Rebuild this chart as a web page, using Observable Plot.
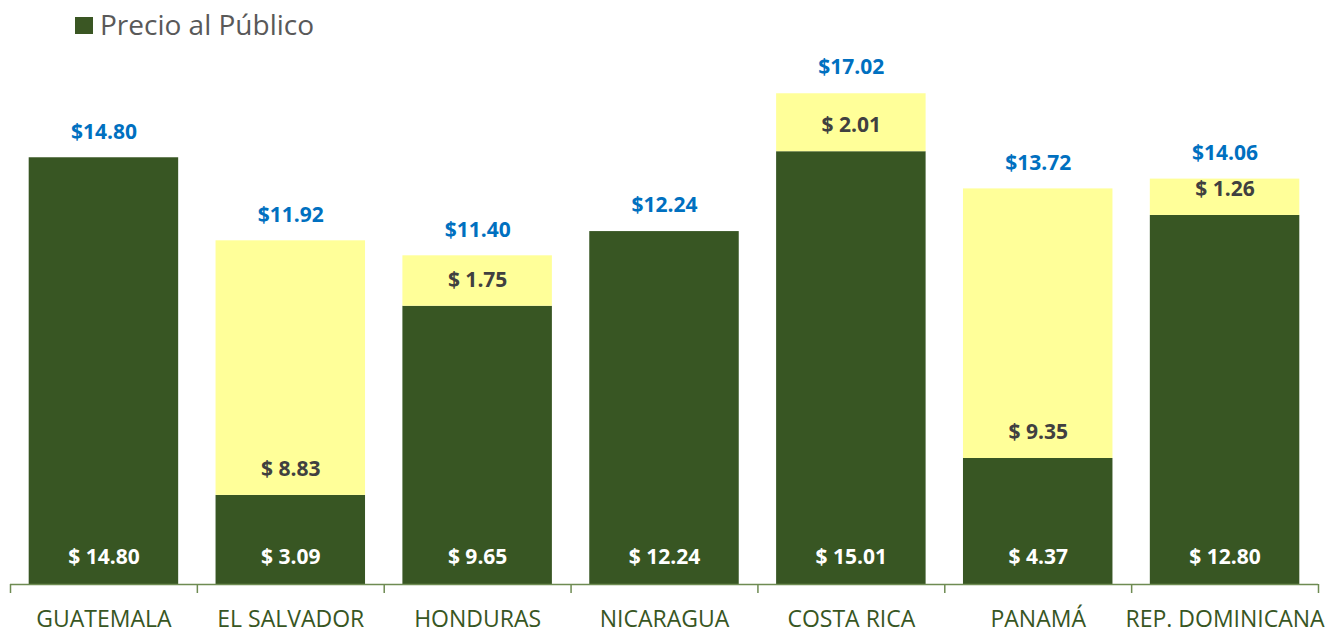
<!DOCTYPE html>
<html><head><meta charset="utf-8">
<script src="https://cdn.jsdelivr.net/npm/d3@7"></script>
<script src="https://cdn.jsdelivr.net/npm/@observablehq/plot@0.6"></script>
<style>
body{margin:0;background:#fff;font-family:'Open Sans',sans-serif;overflow:hidden;}
#legend{height:50px;position:relative;width:1342px;}
#legend .sw{position:absolute;left:75px;top:17px;width:18px;height:17px;background:#3A5623;}
#legend .lt{position:absolute;left:100px;top:10px;font-size:28px;line-height:28px;color:#595959;white-space:nowrap;}
</style></head><body>
<div id="legend"><span class="sw"></span><span class="lt">Precio al Público</span></div>
<div id="chart"></div>
<script>
const countries = ["GUATEMALA","EL SALVADOR","HONDURAS","NICARAGUA","COSTA RICA","PANAMÁ","REP. DOMINICANA"];
const precioPublico = [14.80, 3.09, 9.65, 12.24, 15.01, 4.37, 12.80];
const adicional = [0, 8.83, 1.75, 0, 2.01, 9.35, 1.26];
const totales = [14.80, 11.92, 11.40, 12.24, 17.02, 13.72, 14.06];

const GREEN = "#385623", YELLOW = "#FFFF99", BLUE = "#0070C0", DARK = "#404040", AXIS = "#6E8B52";
const W = 1342, H = 581, mT = 15, mB = 47, mL = 10, mR = 24;
const yMax = 18;
const step = (W - mL - mR) / countries.length;
const pxPerUnit = (H - mT - mB) / yMax;

const rows = countries.map((c, i) => ({country: c, green: precioPublico[i], extra: adicional[i], total: totales[i]}));
const extraRows = rows.filter(d => d.extra > 0);
const fmt = v => "$ " + v.toFixed(2);

const chart = Plot.plot({
  width: W, height: H,
  marginTop: mT, marginBottom: mB, marginLeft: mL, marginRight: mR,
  style: {fontFamily: "'Open Sans', sans-serif", background: "#fff", overflow: "visible"},
  x: {domain: countries, paddingInner: 0.2, paddingOuter: 0.1, round: false, axis: null},
  y: {domain: [0, yMax], axis: null},
  marks: [
    Plot.barY(rows, {x: "country", y1: 0, y2: "green", fill: GREEN}),
    Plot.barY(extraRows, {x: "country", y1: "green", y2: "total", fill: YELLOW}),
    Plot.ruleY([0], {stroke: AXIS, strokeWidth: 1.5}),
    Plot.ruleX(countries, {x: d => d, y1: 0, y2: -9 / pxPerUnit, dx: -step / 2, stroke: AXIS, strokeWidth: 1.5}),
    Plot.ruleX(countries.slice(-1), {x: d => d, y1: 0, y2: -9 / pxPerUnit, dx: step / 2, stroke: AXIS, strokeWidth: 1.5}),
    Plot.text(rows, {x: "country", y: 0, text: d => fmt(d.green), dy: -27, fill: "white", fontWeight: "bold", fontSize: 21}),
    Plot.text(extraRows, {x: "country", y: "green", text: d => fmt(d.extra), dy: -26, fill: DARK, fontWeight: "bold", fontSize: 21}),
    Plot.text(rows, {x: "country", y: "total", text: d => "$" + d.total.toFixed(2), dy: -26, fill: BLUE, fontWeight: "bold", fontSize: 21}),
    Plot.text(countries, {x: d => d, y: 0, text: d => d, dy: 35, fill: GREEN, fontSize: 23})
  ]
});
document.getElementById("chart").appendChild(chart);
</script>
</body></html>
